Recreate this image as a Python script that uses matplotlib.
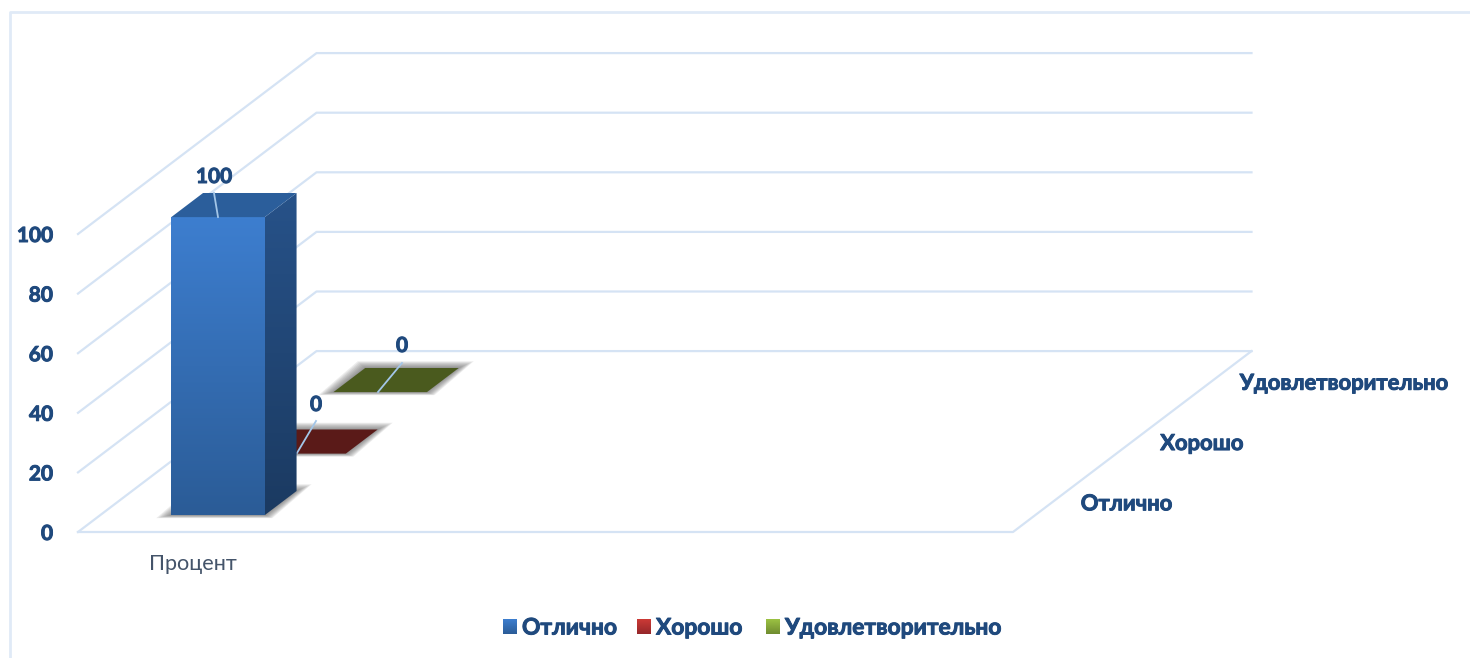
# 3D style column chart drawn with an oblique projection on a flat axes

import matplotlib.pyplot as plt
import matplotlib.patheffects as pe
import numpy as np
from matplotlib.colors import to_rgb
from matplotlib.patches import Polygon

# Data
categories = ['Процент']
series_names = ['Отлично', 'Хорошо', 'Удовлетворительно']
series_values = [100, 0, 0]
value_ticks = [0, 20, 40, 60, 80, 100]

plt.rcParams['font.family'] = ['Lato', 'Noto Sans', 'DejaVu Sans']

NAVY = '#1f497d'
GRID = '#d5e3f4'
LEADER = '#a3c6e8'
HEAVY = [pe.withStroke(linewidth=0.7, foreground=NAVY)]

face_top = ['#3d7ecf', '#cc3a36', '#9cc243']
face_bottom = ['#2b5c97', '#95272a', '#6f8c30']
side_top = ['#275289', '#5a1a18', '#4a5a1e']
side_bottom = ['#1b3a61', '#5a1a18', '#4a5a1e']
roof = ['#2b5e9b', '#5a1a18', '#4a5a1e']


# x in px along the floor, d = depth slot (0-3), v = value
def project(x, d, v):
    return 78 + x + 79.5 * d, 532 - 60.3 * d - 2.98 * v


def gradient(ax, poly, top, bottom, zorder):
    xs = [p[0] for p in poly]
    ys = [p[1] for p in poly]
    c = np.linspace(to_rgb(top), to_rgb(bottom), 64).reshape(64, 1, 3)
    img = ax.imshow(c, extent=(min(xs), max(xs), max(ys), min(ys)), aspect='auto',
                    zorder=zorder, interpolation='bilinear')
    img.set_clip_path(Polygon(poly, closed=True, transform=ax.transData))


# soft floor shadow, spreads sideways much more than up and down
def shadow(ax, poly, zorder):
    (ax0, ay0), (bx0, by0), (cx0, cy0), (ex0, ey0) = poly
    for s in np.linspace(15, 1, 8):
        p = [(ax0 - s, ay0 + s * 0.2), (bx0 + s * 0.5, by0 + s * 0.2),
             (cx0 + s, cy0 - s * 0.45), (ex0 - s * 0.5, ey0 - s * 0.45)]
        ax.add_patch(Polygon(p, closed=True, facecolor='#4d4d4d', edgecolor='none',
                             alpha=0.1, zorder=zorder))


fig = plt.figure(figsize=(14.7, 6.58), dpi=100)
ax = fig.add_axes([0, 0, 1, 1])
ax.set_axis_off()

# outer chart border
ax.plot([10, 10, 1470], [658, 12, 12], color='#e0eaf7', linewidth=2, zorder=1)

# walls and floor gridlines
x_end = 935
for v in value_ticks:
    x0, y0 = project(0, 0, v)
    x1, y1 = project(0, 3, v)
    x2, y2 = project(x_end, 3, v)
    ax.plot([x0, x1, x2], [y0, y1, y2], color=GRID, linewidth=1.6, zorder=2)
    ax.text(53, y0 + 2, str(v), ha='right', va='center', fontsize=15, fontweight='bold',
            color=NAVY, path_effects=HEAVY)

fx0, fy0 = project(0, 0, 0)
fx1, fy1 = project(x_end, 0, 0)
fx2, fy2 = project(x_end, 3, 0)
ax.plot([fx0, fx1, fx2], [fy0, fy1, fy2], color=GRID, linewidth=1.6, zorder=2)

# depth axis labels
for k, name in enumerate(series_names):
    x, y = project(x_end, k + 0.5, 0)
    ax.text(x + 28, y + 2, name, ha='left', va='center', fontsize=15.8, fontweight='bold',
            color=NAVY, path_effects=HEAVY)

# category label
ax.text(193, 564, categories[0], ha='center', va='center', fontsize=15.6, color='#44546a')

# columns, back to front
bar_x = 71
bar_w = 93.5
bar_d = 0.4
depths = [0.28, 1.30, 2.32]
labels_at = [(214, 177, 214, 193, 218, 217), (316, 405, 316, 421, 297, 453),
             (402, 346, 402, 363, 378, 392)]

for i in range(len(series_values) - 1, -1, -1):
    v = series_values[i]
    z = 10 + (3 - i) * 5
    d = depths[i]
    a = project(bar_x, d, 0)
    b = project(bar_x + bar_w, d, 0)
    c = project(bar_x + bar_w, d + bar_d, 0)
    e = project(bar_x, d + bar_d, 0)
    shadow(ax, [a, b, c, e], z)
    if v > 0:
        at = project(bar_x, d, v)
        bt = project(bar_x + bar_w, d, v)
        ct = project(bar_x + bar_w, d + bar_d, v)
        et = project(bar_x, d + bar_d, v)
        gradient(ax, [a, b, bt, at], face_top[i], face_bottom[i], z + 1)
        gradient(ax, [b, c, ct, bt], side_top[i], side_bottom[i], z + 1)
        ax.add_patch(Polygon([at, bt, ct, et], closed=True, facecolor=roof[i],
                             edgecolor='none', zorder=z + 1))
    else:
        ax.add_patch(Polygon([a, b, c, e], closed=True, facecolor=roof[i],
                             edgecolor='none', zorder=z + 1))

# data labels with leader lines, red one sits behind the blue column
for i, v in enumerate(series_values):
    tx, ty, lx0, ly0, lx1, ly1 = labels_at[i]
    z = 10 + (3 - i) * 5 + 2
    ax.plot([lx0, lx1], [ly0, ly1], color=LEADER, linewidth=1.3, zorder=z)
    ax.text(tx, ty, str(v), ha='center', va='center', fontsize=15, fontweight='bold',
            color=NAVY, zorder=40, path_effects=HEAVY)

# legend
swatch_x = [503, 637, 766]
for i, name in enumerate(series_names):
    sx = swatch_x[i]
    gradient(ax, [(sx, 619), (sx + 14, 619), (sx + 14, 634), (sx, 634)],
             face_top[i], face_bottom[i], 30)
    ax.text(sx + 19, 628, name, ha='left', va='center', fontsize=16.4, fontweight='bold',
            color=NAVY, path_effects=HEAVY)

ax.set_xlim(0, 1470)
ax.set_ylim(658, 0)

plt.savefig('out.png', dpi=100)
